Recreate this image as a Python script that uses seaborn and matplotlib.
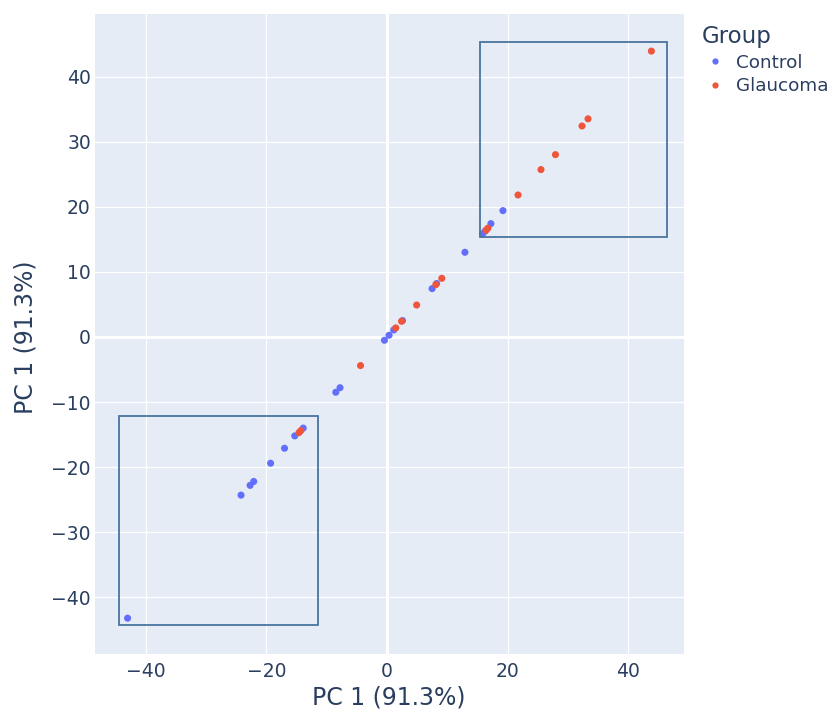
import matplotlib
matplotlib.use("Agg")
import matplotlib.pyplot as plt
import seaborn as sns
import pandas as pd
from matplotlib.patches import Rectangle
from matplotlib.lines import Line2D

# Data
control_x = [-43.0, -24.2, -22.7, -22.1, -19.3, -17.0, -15.3, -13.9, -8.5, -7.8,
             -0.44, 0.33, 1.1, 2.55, 7.46, 8.2, 12.9, 15.8, 16.2, 17.2, 19.2]
control_y = [-43.2, -24.3, -22.8, -22.2, -19.4, -17.1, -15.2, -14.0, -8.5, -7.8,
             -0.51, 0.26, 1.07, 2.51, 7.42, 8.2, 13.0, 15.8, 16.2, 17.4, 19.4]
glaucoma_x = [-14.6, -14.3, -4.4, 1.44, 2.4, 4.9, 8.07, 9.07, 16.4, 16.7,
              21.7, 25.5, 27.9, 32.3, 33.3, 43.8]
glaucoma_y = [-14.7, -14.4, -4.4, 1.38, 2.4, 4.9, 8.03, 9.0, 16.4, 16.7,
              21.8, 25.7, 28.0, 32.4, 33.5, 43.9]
groups = ["Control", "Glaucoma"]
colors = ["#636EFA", "#EF553B"]

# Highlight boxes (x0, x1, y0, y1)
box_low = [-44.4, -11.4, -44.2, -12.1]
box_high = [15.4, 46.4, 15.4, 45.3]

x_ticks = [-40, -20, 0, 20, 40]
y_ticks = [-40, -30, -20, -10, 0, 10, 20, 30, 40]
x_label = "PC 1 (91.3%)"
y_label = "PC 1 (91.3%)"

df = pd.DataFrame({
    "x": control_x + glaucoma_x,
    "y": control_y + glaucoma_y,
    "Group": ["Control"] * len(control_x) + ["Glaucoma"] * len(glaucoma_x),
})

sns.set_theme(style="white")
plt.rcParams["font.family"] = ["DejaVu Sans"]
text_color = "#2a3f5f"

fig = plt.figure(figsize=(8.35, 7.09), dpi=100)
ax = fig.add_axes([95 / 835, 1 - 654 / 709, (684 - 95) / 835, (654 - 14) / 709])
ax.set_facecolor("#E5ECF6")

ax.set_xlim(-48.4, 49.2)
ax.set_ylim(-48.7, 49.6)
ax.set_xticks(x_ticks)
ax.set_yticks(y_ticks)
ax.grid(True, color="white", linewidth=0.9)
ax.axhline(0, color="white", linewidth=2.2, zorder=1)
ax.axvline(0, color="white", linewidth=2.2, zorder=1)
ax.set_axisbelow(True)
for s in ax.spines.values():
    s.set_visible(False)
ax.tick_params(axis="x", length=0, labelsize=13.5, labelcolor=text_color, pad=6)
ax.tick_params(axis="y", length=0, labelsize=13.5, labelcolor=text_color, pad=3)

sns.scatterplot(data=df, x="x", y="y", hue="Group", hue_order=groups,
                palette=colors, s=26, linewidth=0, ax=ax, legend=False, zorder=3)

for b in (box_low, box_high):
    ax.add_patch(Rectangle((b[0], b[2]), b[1] - b[0], b[3] - b[2],
                           fill=False, edgecolor="#4a74a0", linewidth=1.3, zorder=4))

ax.set_xlabel(x_label, fontsize=17, color=text_color)
ax.set_ylabel(y_label, fontsize=17, color=text_color)
ax.xaxis.set_label_coords((389 - 95) / (684 - 95), -(697 - 654) / (654 - 14))
ax.yaxis.set_label_coords(-(95 - 26) / (684 - 95), (654 - 337) / (654 - 14))
ax.xaxis.label.set_va("center")
ax.yaxis.label.set_va("center")

handles = [Line2D([0], [0], marker="o", linestyle="", markersize=4.5,
                  markerfacecolor=c, markeredgewidth=0) for c in colors]
leg = fig.legend(handles, groups, title="Group", loc="upper left",
                 bbox_to_anchor=(694 / 835, 1 - 18 / 709), frameon=False,
                 fontsize=13.2, title_fontsize=16.5, handletextpad=0.4,
                 handlelength=1.5, labelspacing=0.3, alignment="left",
                 borderaxespad=0)
for t in leg.get_texts():
    t.set_color(text_color)
leg.get_title().set_color(text_color)

fig.savefig("out.png", dpi=100)
